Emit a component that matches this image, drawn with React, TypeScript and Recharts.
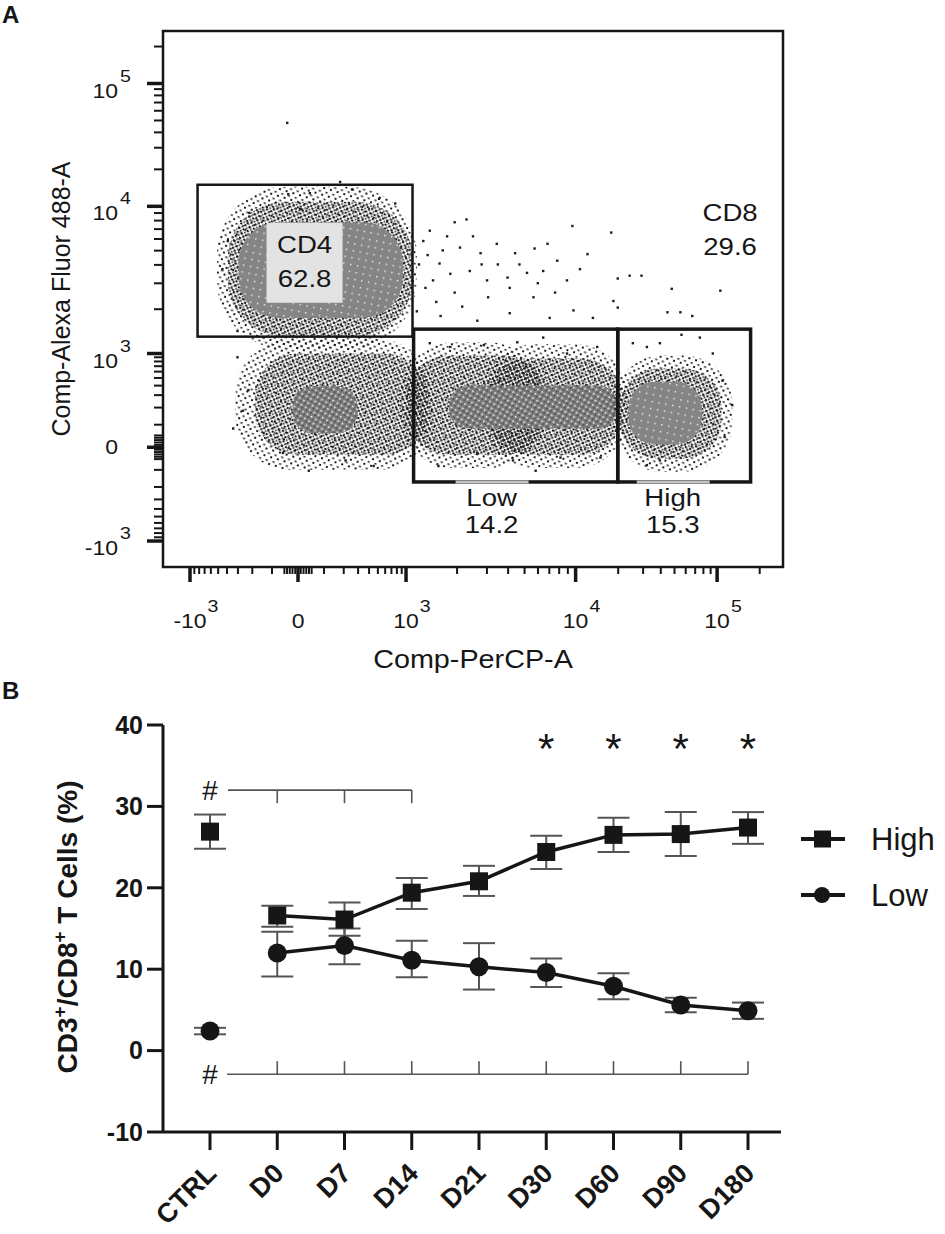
import React from "react";
import {
  ScatterChart,
  Scatter,
  ComposedChart,
  Line,
  ErrorBar,
  XAxis,
  YAxis,
  ReferenceArea,
  ReferenceLine,
  ReferenceDot,
  Label,
  Legend,
} from "recharts";

const FONT = '"Liberation Sans", Arial, Helvetica, sans-serif';
const INK = "#161616";
// panel A glyphs are a little wider than Arial in the source figure
const STRETCH = 1.15;

/* ------------------------------------------------------------------ */
/* Panel A: CD4 / CD8 dot plot (values in logicle display units)        */
/* ------------------------------------------------------------------ */

const majorTickValues = [-1000, 0, 1000, 10000, 100000];
const majorTickBase = ["-10", "0", "10", "10", "10"];
const majorTickExp = ["3", "", "3", "4", "5"];
const minorTickValues = [
  -900, -800, -700, -600, -500, -400, -300, -200, -100, -50, -40, -30, -20, -10,
  10, 20, 30, 40, 50, 100, 200, 300, 400, 500, 600, 700, 800, 900,
  2000, 3000, 4000, 5000, 6000, 7000, 8000, 9000,
  20000, 30000, 40000, 50000, 60000, 70000, 80000, 90000, 200000,
];

// gates
const gateNames = ["CD4", "Low", "High"];
const gateFreq = [62.8, 14.2, 15.3];
const gateX1 = [-0.93, 1.07, 2.96];
const gateX2 = [1.06, 2.96, 4.19];
const gateY1 = [1.18, -0.37, -0.37];
const gateY2 = [2.8, 1.26, 1.26];
const cd8Name = "CD8";
const cd8Freq = 29.6;

// dense event clouds: 1 = sparse, 2 = dense, 3 = mottled, 4 = saturated
const cloudDensity = [1, 2, 4, 1, 2, 3, 1, 1, 2, 2, 3, 1, 2, 4];
const cloudX1 = [-0.75, -0.65, -0.55, -0.58, -0.4, -0.05, 0.95, 1.7, 1.0, 1.75, 1.4, 2.92, 2.98, 3.06];
const cloudX2 = [1.1, 1.06, 0.97, 1.25, 1.2, 0.55, 2.25, 3.05, 2.3, 3.0, 2.95, 4.02, 3.92, 3.74];
const cloudY1 = [1.05, 1.18, 1.38, -0.24, -0.08, 0.15, -0.22, -0.22, -0.08, -0.08, 0.2, -0.26, -0.12, 0.03];
const cloudY2 = [2.78, 2.62, 2.4, 1.15, 1.0, 0.65, 1.12, 1.1, 0.98, 0.95, 0.66, 0.98, 0.84, 0.7];

// individual sparse events
const eventX = [
  1.56, 2.54, 2.9, 1.22, 1.34, 1.5, 1.69, 1.84, 2.01, 2.19, 2.31, 2.4, 2.68, 1.41, 1.59, 1.75, 1.94,
  2.12, 2.27, 2.49, 2.61, 2.96, 3.07, 3.18, 3.46, 3.91, 1.76, 1.96, 2.18, 2.55, 2.73, 2.92, 2.96,
  3.42, 3.54, 3.65, 1.66, 1.96, 2.33, 1.25, 1.16, 1.31, 1.12, 1.18, 1.28, 1.2, 1.45, 1.38, 1.62,
  1.1, 1.52, 1.85, 2.05, 1.7, 2.22, 2.38, 1.32, 1.45, -0.1, 0.39, -0.09, 0.11, 0.02, 0.5, 0.75,
  -0.45, 0.9, 3.1, 3.23, 3.35, 3.72, 3.84, 3.93, 3.95, 3.23, 3.35, 4.02, 3.55, 1.22, 1.41, 1.72,
  2.03, 2.27, 2.49, 2.77, 1.99, 1.66, 2.43, 2.8, 1.3, 2.2, -0.65, -0.56, -0.46, -0.51, 0.44,
  -0.14, -0.56, -0.7, -0.6, 0.1, 0.7,
];
const eventY = [
  2.43, 2.36, 2.29, 2.31, 2.1, 2.13, 2.07, 2.17, 2.07, 2.12, 2.17, 1.99, 2.06, 1.85, 1.88, 1.78, 1.81,
  1.86, 1.88, 1.78, 1.9, 1.8, 1.83, 1.83, 1.69, 1.67, 1.6, 1.7, 1.6, 1.46, 1.38, 1.56, 1.49,
  1.44, 1.44, 1.4, 1.35, 1.43, 1.38, 1.78, 2.2, 1.96, 1.95, 1.7, 1.55, 2.05, 1.65, 2.25, 2.25,
  1.45, 1.5, 1.95, 1.95, 1.95, 1.75, 1.65, 1.4, 2.4, 3.46, 2.83, 2.7, 2.71, 2.54, 2.75, 2.65,
  2.5, 2.6, 1.11, 1.07, 1.11, 1.17, 1.0, 0.71, 0.11, -0.19, -0.14, 0.45, 1.2, 1.11, 1.07, 1.09,
  1.12, 1.17, 1.0, 1.07, -0.14, -0.06, -0.11, -0.11, -0.2, -0.25, 2.2, 0.96, 0.61, 0.39, -0.14,
  -0.06, 1.24, 1.9, 0.2, -0.25, -0.2,
];

const events = eventX.map((x, i) => ({ x, y: eventY[i] }));

// biexponential-like display transform used for the tick marks
function toDisplay(v: number): number {
  const a = Math.abs(v);
  if (a <= 1000) return (Math.sign(v) * Math.asinh(a / 150)) / Math.asinh(1000 / 150);
  if (a <= 10000) return 1 + Math.log10(a / 1000) * 1.57;
  return 2.57 + Math.log10(a / 10000) * 1.31;
}

const majorTickPos = majorTickValues.map(toDisplay);
const fcsTicks = [...majorTickPos, ...minorTickValues.map(toDisplay)].sort((a, b) => a - b);

const X_DOMAIN: [number, number] = [-1.25, 4.49];
const Y_DOMAIN: [number, number] = [-1.277, 4.44];

function glyphWidth(s: string, size: number) {
  let w = 0;
  for (const c of s) w += c === "-" ? 0.333 : 0.556;
  return w * size * STRETCH;
}

function StretchText({ x, y, anchor = "middle", size = 20, children }: any) {
  return (
    <text
      transform={`translate(${x} ${y}) scale(${STRETCH} 1)`}
      textAnchor={anchor}
      fontSize={size}
      fontFamily={FONT}
      fill={INK}
    >
      {children}
    </text>
  );
}

function majorIndex(v: number) {
  return majorTickPos.findIndex((m) => Math.abs(m - v) < 1e-9);
}

function FcsXTick(props: any) {
  const { x, y, payload } = props;
  const k = majorIndex(payload.value);
  const major = k >= 0;
  const base = major ? majorTickBase[k] : "";
  const exp = major ? majorTickExp[k] : "";
  return (
    <g>
      <line x1={x} x2={x} y1={y} y2={y + (major ? 15 : 7)} stroke={INK} strokeWidth={major ? 3.5 : 2} />
      {major && (
        <StretchText x={x} y={y + 61} size={20}>
          {base}
        </StretchText>
      )}
      {major && exp && (
        <StretchText x={x + glyphWidth(base, 20) / 2 + 1} y={y + 45} anchor="start" size={17}>
          {exp}
        </StretchText>
      )}
    </g>
  );
}

function FcsYTick(props: any) {
  const { x, y, payload } = props;
  const k = majorIndex(payload.value);
  const major = k >= 0;
  const base = major ? majorTickBase[k] : "";
  const exp = major ? majorTickExp[k] : "";
  return (
    <g>
      <line x1={x - (major ? 16 : 9)} x2={x} y1={y} y2={y} stroke={INK} strokeWidth={major ? 3.5 : 2} />
      {major && (
        <StretchText x={x - 45} y={y + (exp ? 14 : 7)} anchor="end" size={20}>
          {base}
        </StretchText>
      )}
      {major && exp && (
        <StretchText x={x - 43} y={y - 2} anchor="start" size={17}>
          {exp}
        </StretchText>
      )}
    </g>
  );
}

const densityFill = ["", "url(#evSparse)", "url(#evDense)", "url(#evMottled)", "url(#evCore)"];

const cloudShape = (density: number) => (p: any) => {
  const r = Math.min(p.width, p.height) * 0.42;
  return (
    <rect x={p.x} y={p.y} width={p.width} height={p.height} rx={r} ry={r} fill={densityFill[density]} stroke="none" />
  );
};

// label layout of each gate, in pixels relative to the gate rectangle
const gateLabelLayout = [
  { inside: true, dx: 107, stroke: 2.5 },
  { inside: false, dx: 78, stroke: 3.5 },
  { inside: false, dx: 55, stroke: 3.5 },
];

const gateShape = (i: number) => (p: any) => {
  const lay = gateLabelLayout[i];
  const cx = p.x + lay.dx;
  const bottom = p.y + p.height;
  return (
    <g>
      <rect x={p.x} y={p.y} width={p.width} height={p.height} fill="none" stroke={INK} strokeWidth={lay.stroke} />
      {lay.inside ? (
        <g>
          <rect x={cx - 38} y={p.y + 38} width={76} height={80} fill="#e3e3e3" />
          <StretchText x={cx} y={p.y + 68} size={24}>
            {gateNames[i]}
          </StretchText>
          <StretchText x={cx} y={p.y + 102} size={24}>
            {gateFreq[i].toFixed(1)}
          </StretchText>
        </g>
      ) : (
        <g>
          <line x1={cx - 36} x2={cx + 37} y1={bottom} y2={bottom} stroke="#c4c4c4" strokeWidth={3} />
          <StretchText x={cx} y={bottom + 24} size={24}>
            {gateNames[i]}
          </StretchText>
          <StretchText x={cx} y={bottom + 51} size={24}>
            {gateFreq[i].toFixed(1)}
          </StretchText>
        </g>
      )}
    </g>
  );
};

const eventShape = (p: any) => (
  <rect x={p.cx - 1.2} y={p.cy - 1.2} width={2.4} height={2.4} fill="#1e1e1e" />
);

function FlowPanel() {
  return (
    <ScatterChart width={945} height={690} margin={{ top: 31, right: 162, bottom: 0, left: 63 }}>
      <XAxis
        type="number"
        dataKey="x"
        domain={X_DOMAIN}
        allowDataOverflow
        ticks={fcsTicks}
        interval={0}
        tickSize={0}
        tickMargin={0}
        tickLine={false}
        axisLine={false}
        height={123}
        tick={(p: any) => <FcsXTick {...p} />}
      >
        <Label
          content={() => (
            <StretchText x={473} y={668} size={25}>
              Comp-PerCP-A
            </StretchText>
          )}
        />
      </XAxis>
      <YAxis
        type="number"
        dataKey="y"
        domain={Y_DOMAIN}
        allowDataOverflow
        ticks={fcsTicks}
        interval={0}
        tickSize={0}
        tickMargin={0}
        tickLine={false}
        axisLine={false}
        width={100}
        tick={(p: any) => <FcsYTick {...p} />}
      >
        <Label
          content={() => (
            <text
              x={70}
              y={299}
              transform="rotate(-90 70 299)"
              textAnchor="middle"
              fontSize={25}
              fontFamily={FONT}
              fill={INK}
            >
              Comp-Alexa Fluor 488-A
            </text>
          )}
        />
      </YAxis>

      {cloudDensity.map((d, i) => (
        <ReferenceArea
          key={`cloud-${i}`}
          x1={cloudX1[i]}
          x2={cloudX2[i]}
          y1={cloudY1[i]}
          y2={cloudY2[i]}
          shape={cloudShape(d)}
        />
      ))}

      <Scatter data={events} shape={eventShape} isAnimationActive={false} />

      {gateNames.map((g, i) => (
        <ReferenceArea
          key={`gate-${g}`}
          x1={gateX1[i]}
          x2={gateX2[i]}
          y1={gateY1[i]}
          y2={gateY2[i]}
          shape={gateShape(i)}
        />
      ))}

      <ReferenceDot
        x={4.0}
        y={2.33}
        r={0}
        shape={(p: any) => (
          <g>
            <StretchText x={p.cx} y={p.cy - 8} size={24}>
              {cd8Name}
            </StretchText>
            <StretchText x={p.cx} y={p.cy + 26} size={24}>
              {cd8Freq.toFixed(1)}
            </StretchText>
          </g>
        )}
      />

      <ReferenceArea
        x1={X_DOMAIN[0]}
        x2={X_DOMAIN[1]}
        y1={Y_DOMAIN[0]}
        y2={Y_DOMAIN[1]}
        ifOverflow="visible"
        fill="none"
        stroke={INK}
        strokeWidth={2.5}
        fillOpacity={0}
      />
    </ScatterChart>
  );
}

/* ------------------------------------------------------------------ */
/* Panel B: CD3+/CD8+ High vs Low over time                             */
/* ------------------------------------------------------------------ */

const days = ["CTRL", "D0", "D7", "D14", "D21", "D30", "D60", "D90", "D180"];
const highMean = [26.9, 16.6, 16.1, 19.4, 20.8, 24.4, 26.5, 26.6, 27.4];
const highLower = [24.8, 15.2, 14.1, 17.4, 19.0, 22.3, 24.4, 23.9, 25.4];
const highUpper = [29.0, 17.8, 18.2, 21.2, 22.7, 26.4, 28.6, 29.3, 29.3];
const lowMean = [2.4, 12.0, 12.9, 11.1, 10.3, 9.6, 7.9, 5.6, 4.9];
const lowLower = [2.0, 9.1, 10.6, 9.0, 7.5, 7.8, 6.3, 4.7, 3.9];
const lowUpper = [2.8, 14.6, 15.0, 13.5, 13.2, 11.3, 9.5, 6.5, 5.9];

const starDays = ["D30", "D60", "D90", "D180"];
const topBracketDays = ["D0", "D7", "D14"];
const bottomBracketDays = ["D0", "D7", "D14", "D21", "D30", "D60", "D90", "D180"];
const yTicksB = [-10, 0, 10, 20, 30, 40];
const legendKeys = ["high", "low"];

const rows = days.map((day, i) => {
  const isCtrl = i === 0;
  const hErr = [highMean[i] - highLower[i], highUpper[i] - highMean[i]];
  const lErr = [lowMean[i] - lowLower[i], lowUpper[i] - lowMean[i]];
  return {
    day,
    highCtrl: isCtrl ? highMean[i] : null,
    highCtrlErr: isCtrl ? hErr : undefined,
    high: isCtrl ? null : highMean[i],
    highErr: isCtrl ? undefined : hErr,
    lowCtrl: isCtrl ? lowMean[i] : null,
    lowCtrlErr: isCtrl ? lErr : undefined,
    low: isCtrl ? null : lowMean[i],
    lowErr: isCtrl ? undefined : lErr,
  };
});

const SquareDot = (p: any) =>
  p.cy == null || p.value == null ? (
    <g key={`s-${p.index}`} />
  ) : (
    <rect key={`s-${p.index}`} x={p.cx - 9} y={p.cy - 9} width={18} height={18} fill={INK} />
  );

const CircleDot = (p: any) =>
  p.cy == null || p.value == null ? (
    <g key={`c-${p.index}`} />
  ) : (
    <circle key={`c-${p.index}`} cx={p.cx} cy={p.cy} r={9.5} fill={INK} />
  );

function DayTick(props: any) {
  const { x, y, payload } = props;
  const ax = x + 8;
  const ay = y + 25;
  return (
    <text
      x={ax}
      y={ay}
      transform={`rotate(-45 ${ax} ${ay})`}
      textAnchor="end"
      fontSize={27}
      fontWeight={700}
      fontFamily={FONT}
      fill={INK}
    >
      {payload.value}
    </text>
  );
}

function SeriesLegend(props: any) {
  const items = (props.payload || []).filter((it: any) => legendKeys.includes(it.dataKey));
  return (
    <svg width={156} height={110}>
      {items.map((it: any, i: number) => {
        const cy = 20 + i * 56;
        return (
          <g key={it.value}>
            <line x1={12} x2={56} y1={cy} y2={cy} stroke={INK} strokeWidth={4} />
            {it.dataKey === "high" ? (
              <rect x={25} y={cy - 8.5} width={17} height={17} fill={INK} />
            ) : (
              <circle cx={33} cy={cy} r={8} fill={INK} />
            )}
            <text x={82} y={cy + 11} fontSize={31} fontFamily={FONT} fill={INK}>
              {it.value}
            </text>
          </g>
        );
      })}
    </svg>
  );
}

const textMark = (txt: string, size: number, dy: number) => (p: any) => (
  <text x={p.cx} y={p.cy + dy} textAnchor="middle" fontSize={size} fontFamily={FONT} fill={INK}>
    {txt}
  </text>
);

function TimecoursePanel() {
  const bracket = { stroke: "#555", strokeWidth: 1.6 };
  return (
    <ComposedChart width={945} height={534} data={rows} margin={{ top: 25, right: 164, bottom: 0, left: 83 }}>
      <XAxis
        dataKey="day"
        type="category"
        scale="point"
        padding={{ left: 47, right: 33 }}
        height={102}
        interval={0}
        tickSize={18}
        tickMargin={0}
        axisLine={{ stroke: INK, strokeWidth: 3 }}
        tickLine={{ stroke: INK, strokeWidth: 3 }}
        tick={(p: any) => <DayTick {...p} />}
      />
      <YAxis
        type="number"
        domain={[-10, 40]}
        ticks={yTicksB}
        interval={0}
        width={80}
        tickSize={16}
        tickMargin={4}
        axisLine={{ stroke: INK, strokeWidth: 3 }}
        tickLine={{ stroke: INK, strokeWidth: 3 }}
        tick={{ fontSize: 25, fontWeight: 700, fill: INK, fontFamily: FONT }}
      >
        <Label
          content={() => (
            <text
              x={77}
              y={227}
              transform="rotate(-90 77 227)"
              textAnchor="middle"
              fontSize={28}
              fontWeight={700}
              fontFamily={FONT}
              fill={INK}
            >
              CD3
              <tspan dy={-11} fontSize={19}>+</tspan>
              <tspan dy={11}>/CD8</tspan>
              <tspan dy={-11} fontSize={19}>+</tspan>
              <tspan dy={11}> T Cells (%)</tspan>
            </text>
          )}
        />
      </YAxis>

      {/* # brackets */}
      <ReferenceLine
        segment={[{ x: "CTRL", y: 32 }, { x: "D14", y: 32 }]}
        {...bracket}
        strokeDasharray="0 18 2000"
      />
      {topBracketDays.map((d) => (
        <ReferenceLine key={`tb-${d}`} segment={[{ x: d, y: 32 }, { x: d, y: 30.4 }]} {...bracket} />
      ))}
      <ReferenceLine
        segment={[{ x: "CTRL", y: -2.9 }, { x: "D180", y: -2.9 }]}
        {...bracket}
        strokeDasharray="0 17 2000"
      />
      {bottomBracketDays.map((d) => (
        <ReferenceLine key={`bb-${d}`} segment={[{ x: d, y: -2.9 }, { x: d, y: -1.3 }]} {...bracket} />
      ))}
      <ReferenceDot x="CTRL" y={32} r={0} shape={textMark("#", 28, 10)} />
      <ReferenceDot x="CTRL" y={-2.9} r={0} shape={textMark("#", 28, 10)} />
      {starDays.map((d) => (
        <ReferenceDot key={`st-${d}`} x={d} y={38.3} r={0} shape={textMark("*", 42, 24)} />
      ))}

      <Line
        dataKey="highCtrl"
        stroke="none"
        legendType="none"
        dot={SquareDot}
        activeDot={false}
        isAnimationActive={false}
      >
        <ErrorBar dataKey="highCtrlErr" width={16} stroke="#555" strokeWidth={2} />
      </Line>
      <Line
        dataKey="lowCtrl"
        stroke="none"
        legendType="none"
        dot={CircleDot}
        activeDot={false}
        isAnimationActive={false}
      >
        <ErrorBar dataKey="lowCtrlErr" width={16} stroke="#555" strokeWidth={2} />
      </Line>
      <Line
        dataKey="high"
        name="High"
        stroke={INK}
        strokeWidth={3.5}
        dot={SquareDot}
        activeDot={false}
        isAnimationActive={false}
      >
        <ErrorBar dataKey="highErr" width={16} stroke="#555" strokeWidth={2} />
      </Line>
      <Line
        dataKey="low"
        name="Low"
        stroke={INK}
        strokeWidth={3.5}
        dot={CircleDot}
        activeDot={false}
        isAnimationActive={false}
      >
        <ErrorBar dataKey="lowErr" width={16} stroke="#555" strokeWidth={2} />
      </Line>

      <Legend
        layout="horizontal"
        verticalAlign="middle"
        align="center"
        content={(p: any) => <SeriesLegend {...p} />}
        wrapperStyle={{ left: 789, top: 119, width: 156, height: 110 }}
      />
    </ComposedChart>
  );
}

function PatternDefs() {
  return (
    <svg width={0} height={0} style={{ position: "absolute" }}>
      <defs>
        <pattern id="evSparse" width={7} height={7} patternUnits="userSpaceOnUse" patternTransform="rotate(17)">
          <rect x={0} y={0} width={2} height={2} fill="#1e1e1e" />
          <rect x={3.6} y={4} width={2} height={1.6} fill="#1e1e1e" />
        </pattern>
        <pattern id="evDense" width={4.6} height={4.6} patternUnits="userSpaceOnUse" patternTransform="rotate(23)">
          <rect x={0} y={0} width={2.2} height={2} fill="#1e1e1e" />
          <rect x={2.6} y={2.4} width={1.7} height={1.8} fill="#3a3a3a" />
        </pattern>
        <pattern id="evMottled" width={5} height={5} patternUnits="userSpaceOnUse" patternTransform="rotate(31)">
          <rect x={0} y={0} width={5} height={5} fill="#7c7c7c" />
          <rect x={1} y={1} width={1.5} height={1.5} fill="#ffffff" />
          <rect x={3.4} y={3.2} width={1.2} height={1.2} fill="#1e1e1e" />
        </pattern>
        <pattern id="evCore" width={7} height={7} patternUnits="userSpaceOnUse" patternTransform="rotate(11)">
          <rect x={0} y={0} width={7} height={7} fill="#858585" />
          <rect x={2} y={3} width={1.4} height={1.4} fill="#f2f2f2" />
        </pattern>
      </defs>
    </svg>
  );
}

export default function App() {
  return (
    <div
      style={{
        position: "absolute",
        left: 0,
        top: 0,
        width: 945,
        height: 1234,
        background: "#fff",
        fontFamily: FONT,
        overflow: "hidden",
      }}
    >
      <PatternDefs />
      <div style={{ position: "absolute", left: 2, top: 1, fontSize: 24, fontWeight: 700, color: INK }}>A</div>
      <div style={{ position: "absolute", left: 0, top: 0 }}>
        <FlowPanel />
      </div>
      <div style={{ position: "absolute", left: 2, top: 677, fontSize: 24, fontWeight: 700, color: INK }}>B</div>
      <div style={{ position: "absolute", left: 0, top: 700 }}>
        <TimecoursePanel />
      </div>
    </div>
  );
}
